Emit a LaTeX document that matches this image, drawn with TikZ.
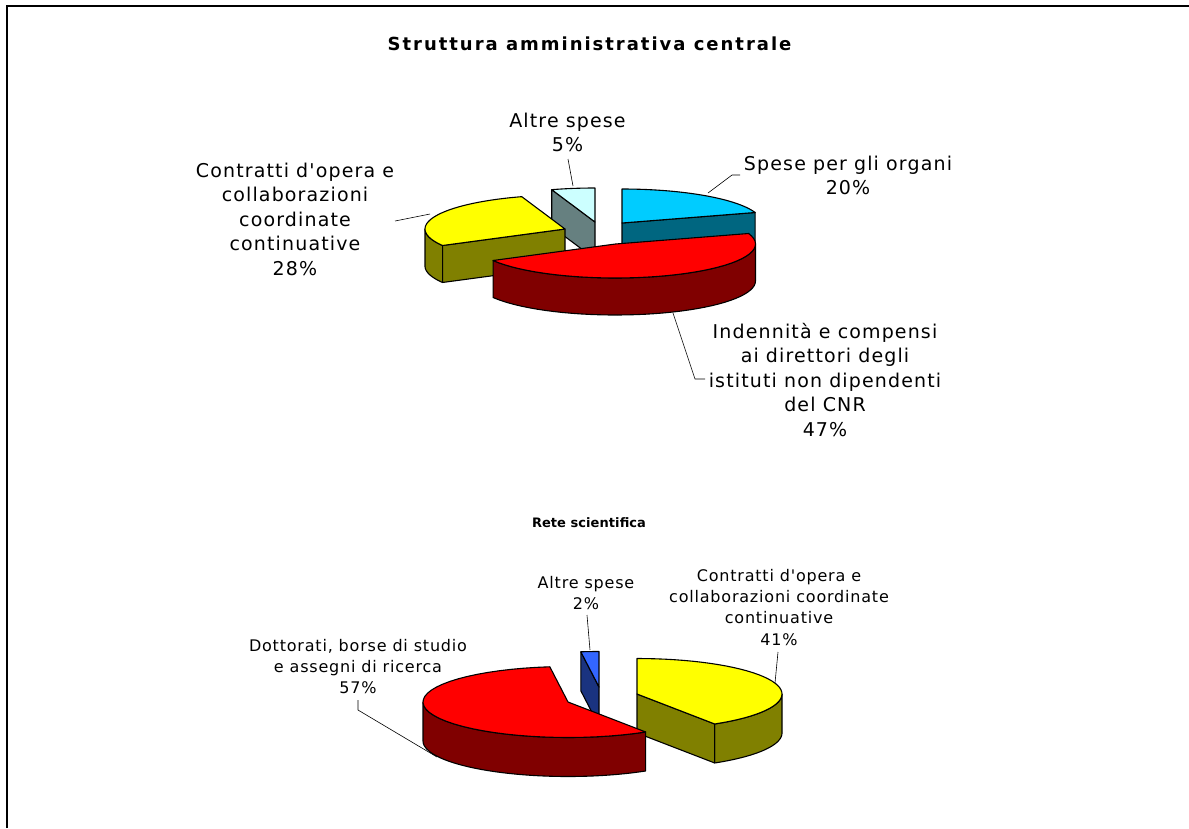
\documentclass[tikz,border=0pt]{standalone}
\usepackage{fontspec}
\newfontfamily\lblfont[LetterSpace=6,Ligatures=TeXOff]{DejaVu Sans}
\newfontfamily\lblfontb[LetterSpace=5,Ligatures=TeXOff]{DejaVu Sans}
\newfontfamily\ttlfont[LetterSpace=11]{DejaVu Sans}
\newfontfamily\subttlfont[LetterSpace=0.5]{DejaVu Sans}
\definecolor{cyantop}{HTML}{00CCFF}
\definecolor{cyanside}{HTML}{006680}
\definecolor{palecyan}{HTML}{CCFFFF}
\definecolor{grayside}{HTML}{668080}
\definecolor{yel}{HTML}{FFFF00}
\definecolor{olive}{HTML}{808000}
\definecolor{redtop}{HTML}{FF0000}
\definecolor{redside}{HTML}{800000}
\definecolor{bluetop}{HTML}{3366FF}
\definecolor{blueside}{HTML}{1A3380}
% top face of a slice: Vx Vy rx ry t1 t2 colour
\newcommand{\PieTop}[7]{\filldraw[pieline,fill=#7] (#1,#2) -- plot[domain=#5:#6,samples=40] ({#1+#3*sin(\x)},{#2-#4*cos(\x)}) -- cycle;}
% outer side of a slice: Vx Vy rx ry depth a b colour
\newcommand{\PieSide}[8]{\filldraw[pieline,fill=#8] plot[domain=#6:#7,samples=40] ({#1+#3*sin(\x)},{#2-#4*cos(\x)}) -- plot[domain=0:1,samples=40] ({#1+#3*sin(#7+(#6-#7)*\x)},{#2+#5-#4*cos(#7+(#6-#7)*\x)}) -- cycle;}
% radial face of a slice: Vx Vy rx ry depth t colour
\newcommand{\PieFace}[7]{\filldraw[pieline,fill=#7] (#1,#2) -- ({#1+#3*sin(#6)},{#2-#4*cos(#6)}) -- ++(0,#5) -- (#1,#2+#5) -- cycle;}
\tikzset{
  pieline/.style={draw=black,line width=1.1pt,line join=round},
  leader/.style={draw=black,line width=0.6pt},
  toplbl/.style={align=center,inner sep=0pt,anchor=north,font={\lblfont\fontsize{19}{24.5}\selectfont}},
  botlbl/.style={align=center,inner sep=0pt,anchor=north,font={\lblfontb\fontsize{16}{21.3}\selectfont}},
}
\begin{document}
\begin{tikzpicture}[x=1pt,y=-1pt]
\useasboundingbox (0,0) rectangle (1189,828);
\fill[white] (0,0) rectangle (1189,828);
\draw[line width=1.6pt] (7,828) -- (7,6) -- (1189,6);

% ---------- titles
\node[inner sep=0pt,anchor=north,font={\ttlfont\bfseries\fontsize{18}{21}\selectfont}] (title1) at (589.5,36.5) {Struttura amministrativa centrale};
\node[inner sep=0pt,anchor=north,font={\subttlfont\bfseries\fontsize{13}{15}\selectfont}] (title2) at (589,517) {Rete scientifica};

% ---------- top pie (rx 140, ry 34, depth 37)
% Altre spese 342-360
\PieFace{595}{222}{140}{34}{37}{342}{grayside}
\PieTop{595}{222}{140}{34}{342}{360}{palecyan}
% Spese per gli organi 0-72
\PieFace{622}{223}{140}{34}{37}{72}{cyanside}
\PieTop{622}{223}{140}{34}{0}{72}{cyantop}
% Contratti 241-342
\PieSide{565}{229}{140}{34}{37}{241}{270}{olive}
\PieFace{565}{229}{140}{34}{37}{241}{olive}
\PieTop{565}{229}{140}{34}{241}{342}{yel}
% Indennita 72-241
\PieSide{615.5}{244}{140}{34}{37}{90}{241}{redside}
\PieTop{615.5}{244}{140}{34}{72}{241}{redtop}

% ---------- bottom pie (rx 145, ry 35.5, depth 39)
% Altre spese 352.8-360
\PieFace{599}{687}{145}{35.5}{39}{352.8}{blueside}
\PieTop{599}{687}{145}{35.5}{352.8}{360}{bluetop}
% Contratti 0-147.6
\PieSide{637}{694}{145}{35.5}{39}{90}{147.6}{olive}
\PieFace{637}{694}{145}{35.5}{39}{147.6}{olive}
\PieTop{637}{694}{145}{35.5}{0}{147.6}{yel}
% Dottorati 147.6-352.8
\PieSide{568}{702}{145}{35.5}{39}{147.6}{270}{redside}
\PieTop{568}{702}{145}{35.5}{147.6}{352.8}{redtop}

% ---------- top labels
\node[toplbl] (lAltreT) at (567.5,112.6) {Altre spese\\5\%};
\node[toplbl] (lOrgani) at (848,155.6) {Spese per gli organi\\20\%};
\node[toplbl] (lContrT) at (295,162.6) {Contratti d'opera e\\collaborazioni\\coordinate\\continuative\\28\%};
\node[toplbl] (lIndenn) at (825,322.6) {Indennità e compensi\\ai direttori degli\\istituti non dipendenti\\del CNR\\47\%};

% ---------- bottom labels
\node[botlbl] (lAltreB) at (586,575.8) {Altre spese\\2\%};
\node[botlbl] (lContrB) at (779,569) {Contratti d'opera e\\collaborazioni coordinate\\continuative\\41\%};
\node[botlbl] (lDottor) at (358,638.8) {Dottorati, borse di studio\\e assegni di ricerca\\57\%};

% ---------- leader lines
\coordinate (aT1) at (568,159);   \coordinate (aT2) at (573,186);
\coordinate (oT1) at (740,175);   \coordinate (oT2) at (732,175);   \coordinate (oT3) at (708,193);
\coordinate (cT1) at (395,221);   \coordinate (cT2) at (430,214);
\coordinate (iT1) at (705,379);   \coordinate (iT2) at (695,379);   \coordinate (iT3) at (673,313);
\coordinate (aB1) at (587,615);   \coordinate (aB2) at (590,650);
\coordinate (cB1) at (778,652);   \coordinate (cB2) at (775,683);
\coordinate (dB1) at (358,700);   \coordinate (dB2) at (358,710);   \coordinate (dB3) at (437,757);
\draw[leader] (aT1) -- (aT2);
\draw[leader] (oT1) -- (oT2) -- (oT3);
\draw[leader] (cT1) -- (cT2);
\draw[leader] (iT1) -- (iT2) -- (iT3);
\draw[leader] (aB1) -- (aB2);
\draw[leader] (cB1) -- (cB2);
\draw[leader] (dB1) -- (dB2) -- (dB3);
\end{tikzpicture}
\end{document}
